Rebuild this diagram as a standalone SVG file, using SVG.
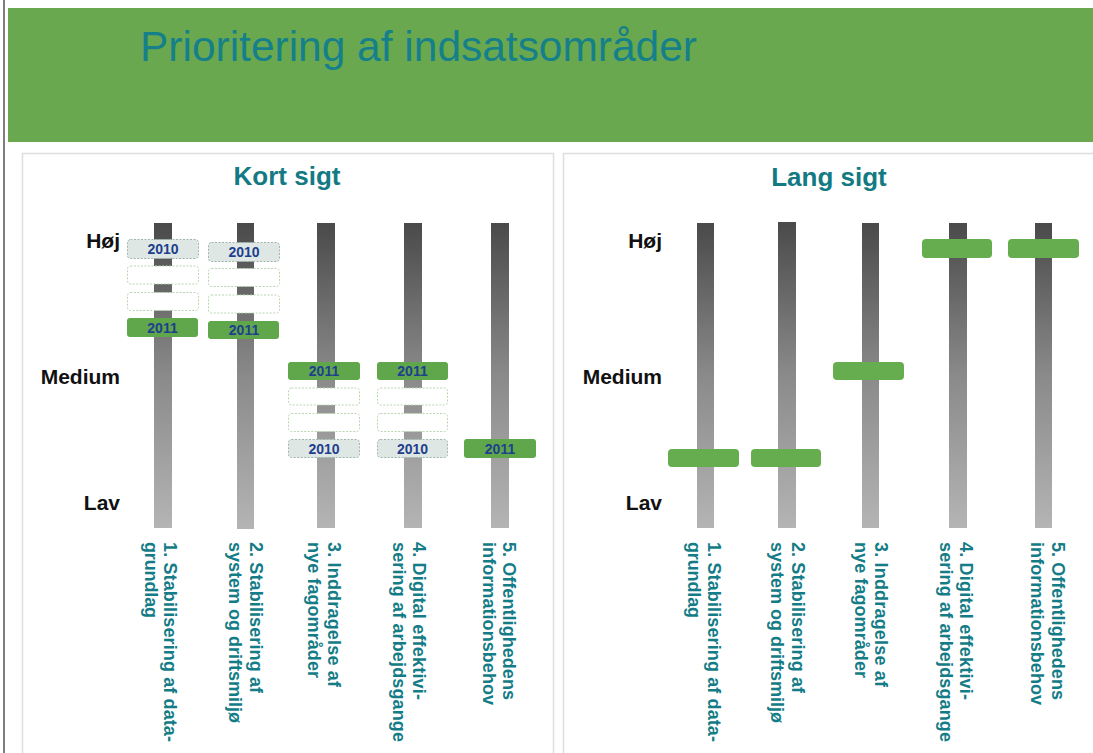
<svg xmlns="http://www.w3.org/2000/svg" width="1093" height="753" viewBox="0 0 1093 753">
<defs>
<linearGradient id="trk" x1="0" y1="0" x2="0" y2="1">
<stop offset="0" stop-color="#4a4a4a"/>
<stop offset="0.5" stop-color="#8a8a8a"/>
<stop offset="1" stop-color="#b4b4b4"/>
</linearGradient>
<style>
.f{font-family:"Liberation Sans",Arial,Helvetica,sans-serif}
.title{font-size:42px;fill:#15808a}
.head{font-size:26px;font-weight:bold;fill:#137a84;text-anchor:middle}
.lvl{font-size:21px;font-weight:bold;fill:#111;text-anchor:end}
.lbl{font-size:18px;font-weight:bold;fill:#147c86}
.yr{font-size:14px;font-weight:bold;fill:#1e3f8e;text-anchor:middle}
.track{fill:url(#trk)}
.b10{fill:#dfe7e4;stroke:#9fb4ad;stroke-width:1;stroke-dasharray:2 1.5}
.be{fill:#ffffff;stroke:#b9d6b0;stroke-width:1;stroke-dasharray:2 1.5}
.b11{fill:#60a74b}
.bar{fill:#66ad4f}
.panel{fill:#fff;stroke:#dedede;stroke-width:1.5}
</style>
</defs>
<rect x="0" y="0" width="1093" height="753" fill="#fff"/>
<line x1="4" y1="0" x2="4" y2="753" stroke="#555" stroke-width="1.5"/>
<g id="header">
<rect x="8" y="8" width="1085" height="134" fill="#6aa84f"/>
<text class="f title" x="140" y="61" textLength="557" lengthAdjust="spacingAndGlyphs">Prioritering af indsatsområder</text>
</g>
<g id="panel-kort">
<rect class="panel" x="22.5" y="153.5" width="531" height="610"/>
<text class="f head" x="287" y="185">Kort sigt</text>
<text class="f lvl" x="120" y="248">Høj</text>
<text class="f lvl" x="120" y="384">Medium</text>
<text class="f lvl" x="120" y="510">Lav</text>
</g>
<g id="panel-lang">
<rect class="panel" x="563.5" y="153.5" width="540" height="610"/>
<text class="f head" x="829" y="186">Lang sigt</text>
<text class="f lvl" x="662" y="248">Høj</text>
<text class="f lvl" x="662" y="384">Medium</text>
<text class="f lvl" x="662" y="510">Lav</text>
</g>
<g id="connectors"/>
<g id="kort-1">
<rect class="track" x="154" y="223" width="18" height="305"/>
<rect class="b10" x="127.5" y="239.5" width="71" height="19" rx="3"/>
<text class="f yr" x="163" y="254">2010</text>
<rect class="be" x="127.5" y="266" width="71" height="18" rx="3"/>
<rect class="be" x="127.5" y="292.5" width="71" height="18" rx="3"/>
<rect class="b11" x="127" y="318" width="71" height="19" rx="3"/>
<text class="f yr" x="162.5" y="332.5">2011</text>
<text class="f lbl" transform="translate(164,542) rotate(90)" textLength="200" lengthAdjust="spacing">1. Stabilisering af data-</text>
<text class="f lbl" transform="translate(145,542) rotate(90)" textLength="76" lengthAdjust="spacing">grundlag</text>
</g>
<g id="kort-2">
<rect class="track" x="237" y="223" width="17" height="306"/>
<rect class="b10" x="208.5" y="242.5" width="71" height="19" rx="3"/>
<text class="f yr" x="244" y="257">2010</text>
<rect class="be" x="208.5" y="268.5" width="71" height="18" rx="3"/>
<rect class="be" x="208.5" y="295" width="71" height="18" rx="3"/>
<rect class="b11" x="208" y="321" width="71" height="18" rx="3"/>
<text class="f yr" x="244" y="335">2011</text>
<text class="f lbl" transform="translate(250,542) rotate(90)" textLength="151" lengthAdjust="spacing">2. Stabilisering af</text>
<text class="f lbl" transform="translate(229,542) rotate(90)" textLength="181" lengthAdjust="spacing">system og driftsmiljø</text>
</g>
<g id="kort-3">
<rect class="track" x="317" y="223" width="18" height="305"/>
<rect class="b11" x="288" y="362" width="72" height="18" rx="3"/>
<text class="f yr" x="324" y="376">2011</text>
<rect class="be" x="288.5" y="388" width="71" height="17" rx="3"/>
<rect class="be" x="288.5" y="413.5" width="71" height="18" rx="3"/>
<rect class="b10" x="288.5" y="439.5" width="71" height="18" rx="3"/>
<text class="f yr" x="324" y="453.5">2010</text>
<text class="f lbl" transform="translate(328,542) rotate(90)" textLength="145" lengthAdjust="spacing">3. Inddragelse af</text>
<text class="f lbl" transform="translate(308,542) rotate(90)" textLength="136" lengthAdjust="spacing">nye fagområder</text>
</g>
<g id="kort-4">
<rect class="track" x="404" y="223" width="18" height="305"/>
<rect class="b11" x="377" y="362" width="71" height="18" rx="3"/>
<text class="f yr" x="412.5" y="376">2011</text>
<rect class="be" x="377.5" y="388" width="70" height="17" rx="3"/>
<rect class="be" x="377.5" y="413.5" width="70" height="18" rx="3"/>
<rect class="b10" x="377.5" y="439.5" width="70" height="18" rx="3"/>
<text class="f yr" x="412.5" y="453.5">2010</text>
<text class="f lbl" transform="translate(413,542) rotate(90)" textLength="158" lengthAdjust="spacing">4. Digital effektivi-</text>
<text class="f lbl" transform="translate(393,542) rotate(90)" textLength="200" lengthAdjust="spacing">sering af arbejdsgange</text>
</g>
<g id="kort-5">
<rect class="track" x="491" y="223" width="18" height="305"/>
<rect class="b11" x="464" y="439" width="72" height="19" rx="3"/>
<text class="f yr" x="500" y="453.5">2011</text>
<text class="f lbl" transform="translate(503,542) rotate(90)" textLength="158" lengthAdjust="spacing">5. Offentlighedens</text>
<text class="f lbl" transform="translate(483,542) rotate(90)" textLength="163" lengthAdjust="spacing">informationsbehov</text>
</g>
<g id="lang-1">
<rect class="track" x="697" y="223" width="17" height="305"/>
<rect class="bar" x="668" y="449" width="71" height="18" rx="4"/>
<text class="f lbl" transform="translate(708,542) rotate(90)" textLength="200" lengthAdjust="spacing">1. Stabilisering af data-</text>
<text class="f lbl" transform="translate(688,542) rotate(90)" textLength="76" lengthAdjust="spacing">grundlag</text>
</g>
<g id="lang-2">
<rect class="track" x="778" y="222" width="18" height="306"/>
<rect class="bar" x="751" y="449" width="70" height="18" rx="4"/>
<text class="f lbl" transform="translate(792,542) rotate(90)" textLength="151" lengthAdjust="spacing">2. Stabilisering af</text>
<text class="f lbl" transform="translate(771,542) rotate(90)" textLength="181" lengthAdjust="spacing">system og driftsmiljø</text>
</g>
<g id="lang-3">
<rect class="track" x="862" y="223" width="17" height="305"/>
<rect class="bar" x="833" y="362" width="71" height="18" rx="4"/>
<text class="f lbl" transform="translate(875,542) rotate(90)" textLength="145" lengthAdjust="spacing">3. Inddragelse af</text>
<text class="f lbl" transform="translate(855,542) rotate(90)" textLength="136" lengthAdjust="spacing">nye fagområder</text>
</g>
<g id="lang-4">
<rect class="track" x="949" y="223" width="18" height="305"/>
<rect class="bar" x="922" y="239" width="70" height="19" rx="4"/>
<text class="f lbl" transform="translate(960,542) rotate(90)" textLength="158" lengthAdjust="spacing">4. Digital effektivi-</text>
<text class="f lbl" transform="translate(940,542) rotate(90)" textLength="200" lengthAdjust="spacing">sering af arbejdsgange</text>
</g>
<g id="lang-5">
<rect class="track" x="1035" y="223" width="17" height="305"/>
<rect class="bar" x="1008" y="239" width="71" height="19" rx="4"/>
<text class="f lbl" transform="translate(1052,542) rotate(90)" textLength="158" lengthAdjust="spacing">5. Offentlighedens</text>
<text class="f lbl" transform="translate(1031,542) rotate(90)" textLength="163" lengthAdjust="spacing">informationsbehov</text>
</g>
</svg>
